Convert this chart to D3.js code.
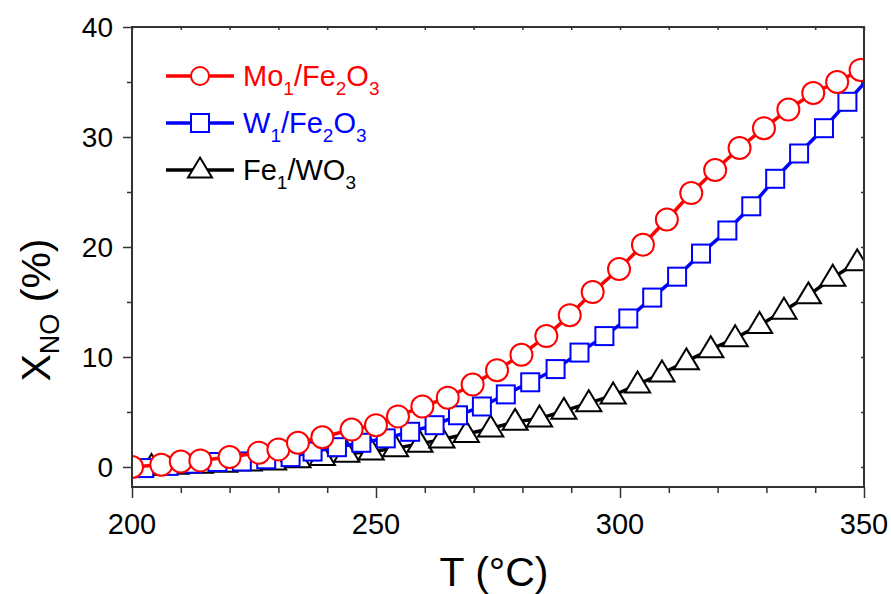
<!DOCTYPE html>
<html>
<head>
<meta charset="utf-8">
<script src="https://cdn.jsdelivr.net/npm/d3@7"></script>
<style>
  body { margin: 0; background: #fff; }
  svg { font-family: "Liberation Sans", Arial, sans-serif; }
</style>
</head>
<body>
<svg id="chart" width="891" height="594"></svg>
<script>
// NO conversion vs temperature
const moT = [200, 206, 210, 214, 220, 226, 230, 234, 239, 245, 250, 254.5, 259.5, 264.7, 269.8, 274.8, 279.8, 284.9, 289.7, 294.4, 299.8, 304.7, 309.6, 314.6, 319.5, 324.5, 329.5, 334.5, 339.6, 344.5, 349.3];
const moX = [0, 0.2, 0.5, 0.6, 0.9, 1.3, 1.6, 2.2, 2.7, 3.4, 3.8, 4.6, 5.5, 6.3, 7.5, 8.8, 10.2, 11.9, 13.8, 15.9, 18.0, 20.2, 22.5, 24.9, 27.0, 29.0, 30.8, 32.5, 34.0, 35.0, 36.1];

const wT = [202.5, 207.5, 212.5, 217.5, 222.5, 227.5, 232.5, 237, 242, 247, 252, 257, 262, 266.8, 271.7, 276.6, 281.6, 286.8, 291.7, 296.8, 301.7, 306.6, 311.7, 316.6, 322, 326.9, 331.8, 336.7, 341.8, 346.6, 351.5];
const wX = [-0.1, 0.1, 0.3, 0.45, 0.5, 0.7, 0.9, 1.4, 1.8, 2.2, 2.6, 3.2, 3.8, 4.7, 5.5, 6.6, 7.7, 8.9, 10.4, 11.9, 13.5, 15.4, 17.3, 19.4, 21.5, 23.7, 26.2, 28.5, 30.8, 33.2, 35.6];

const feT = [204, 209, 214, 219, 224, 229, 234, 239, 244, 249, 254, 259, 263.5, 268.5, 273.5, 278.5, 283.5, 288.5, 293.6, 298.6, 303.6, 308.6, 313.6, 318.6, 323.6, 328.6, 333.6, 338.6, 343.6, 348.6];
const feX = [0, 0.1, 0.2, 0.3, 0.4, 0.5, 0.7, 0.9, 1.2, 1.4, 1.7, 2.1, 2.5, 3.0, 3.5, 4.1, 4.4, 5.1, 5.8, 6.5, 7.5, 8.5, 9.6, 10.7, 11.7, 12.9, 14.2, 15.6, 17.2, 18.6];

const xTicks = [200, 250, 300, 350];
const yTicks = [0, 10, 20, 30, 40];

const series = [
  { name: ['Mo', '1', '/Fe', '2', 'O', '3'], t: moT, v: moX, color: '#ff0000', shape: 'circle' },
  { name: ['W', '1', '/Fe', '2', 'O', '3'], t: wT, v: wX, color: '#0000ff', shape: 'square' },
  { name: ['Fe', '1', '/WO', '3'], t: feT, v: feX, color: '#000000', shape: 'triangle' }
];

const svg = d3.select('#chart');
const [plotL, plotR, plotT, plotB] = [132, 864, 27, 487];

const x = d3.scaleLinear().domain([200, 350]).range([plotL, plotR]);
const y = d3.scaleLinear().domain([-1.82, 40]).range([plotB, plotT]);

svg.append('clipPath').attr('id', 'plot-clip')
  .append('rect').attr('x', plotL).attr('y', plotT).attr('width', plotR - plotL).attr('height', plotB - plotT);

// marker drawing helper
const drawMarker = (g, shape, color, size) => {
  if (shape === 'circle') {
    g.append('circle').attr('r', size / 2);
  } else if (shape === 'square') {
    g.append('rect').attr('x', -size / 2).attr('y', -size / 2).attr('width', size).attr('height', size);
  } else {
    const w = size * 1.2, h = size;
    g.append('path').attr('d', `M0,${-h * 0.62}L${w / 2},${h * 0.38}L${-w / 2},${h * 0.38}Z`);
  }
  g.selectAll('*').attr('fill', '#fff').attr('stroke', color).attr('stroke-width', 2);
};

const markerSize = { circle: 22, square: 18, triangle: 21 };

const plot = svg.append('g').attr('clip-path', 'url(#plot-clip)');
const line = d3.line().x(d => x(d[0])).y(d => y(d[1]));

series.slice().reverse().forEach(s => {
  const pts = s.t.map((t, i) => [t, s.v[i]]);
  const g = plot.append('g');
  g.append('path').datum(pts)
    .attr('d', line)
    .attr('fill', 'none')
    .attr('stroke', s.color)
    .attr('stroke-width', 3.5);
  g.selectAll('g.m').data(pts).enter().append('g')
    .attr('class', 'm')
    .attr('transform', d => `translate(${x(d[0])},${y(d[1])})`)
    .each(function () { drawMarker(d3.select(this), s.shape, s.color, markerSize[s.shape]); });
});

// axes
const axisColor = '#333';
const bottomAxis = svg.append('g').attr('transform', `translate(0,${plotB})`)
  .call(d3.axisBottom(x).tickValues(d3.range(200, 351, 10)).tickSize(6).tickFormat(''));
bottomAxis.selectAll('.tick line').filter(d => xTicks.includes(d)).attr('y2', 11);
const leftAxis = svg.append('g').attr('transform', `translate(${plotL},0)`)
  .call(d3.axisLeft(y).tickValues(d3.range(0, 41, 5)).tickSize(5).tickFormat(''));
leftAxis.selectAll('.tick line').filter(d => yTicks.includes(d)).attr('x2', -9);
const topAxis = svg.append('g').attr('transform', `translate(0,${plotT})`)
  .call(d3.axisBottom(x).tickValues(d3.range(200, 351, 10)).tickSize(3).tickFormat(''));
const rightAxis = svg.append('g').attr('transform', `translate(${plotR},0)`)
  .call(d3.axisLeft(y).tickValues(d3.range(0, 41, 5)).tickSize(3).tickFormat(''));

[bottomAxis, leftAxis, topAxis, rightAxis].forEach(a => {
  a.select('.domain').attr('d', null);
  a.selectAll('line').attr('stroke', axisColor).attr('stroke-width', 1.5);
});

svg.append('rect')
  .attr('x', plotL).attr('y', plotT).attr('width', plotR - plotL).attr('height', plotB - plotT)
  .attr('fill', 'none').attr('stroke', axisColor).attr('stroke-width', 2);

svg.append('g').selectAll('text').data(xTicks).enter().append('text')
  .attr('x', d => x(d)).attr('y', 534)
  .attr('text-anchor', 'middle').attr('font-size', 29)
  .text(d => d);

svg.append('g').selectAll('text').data(yTicks).enter().append('text')
  .attr('x', 113).attr('y', d => y(d) + 10)
  .attr('text-anchor', 'end').attr('font-size', 28)
  .text(d => d);

// axis titles
svg.append('text').attr('x', 494).attr('y', 586).attr('text-anchor', 'middle').attr('font-size', 41)
  .text('T (°C)');

const yTitle = svg.append('text').attr('transform', 'translate(50,310) rotate(-90)')
  .attr('text-anchor', 'middle').attr('font-size', 41);
yTitle.append('tspan').text('X');
yTitle.append('tspan').attr('font-size', 27).attr('dy', 9).text('NO');
yTitle.append('tspan').attr('dy', -9).text(' (%)');

// legend
const legend = svg.append('g');
series.forEach((s, i) => {
  const ly = 76 + i * 47;
  const row = legend.append('g');
  row.append('line').attr('x1', 166).attr('x2', 234).attr('y1', ly).attr('y2', ly)
    .attr('stroke', s.color).attr('stroke-width', 3.5);
  const m = row.append('g').attr('transform', `translate(200,${ly})`);
  drawMarker(m, s.shape, s.color, s.shape === 'triangle' ? 20 : 18);
  const txt = row.append('text').attr('x', 243).attr('y', ly + 10).attr('font-size', 29).attr('fill', s.color);
  s.name.forEach((part, k) => {
    const sub = k % 2 === 1;
    txt.append('tspan')
      .attr('font-size', sub ? 19 : 29)
      .attr('dy', k === 0 ? 0 : (sub ? 9 : -9))
      .text(part);
  });
});
</script>
</body>
</html>
